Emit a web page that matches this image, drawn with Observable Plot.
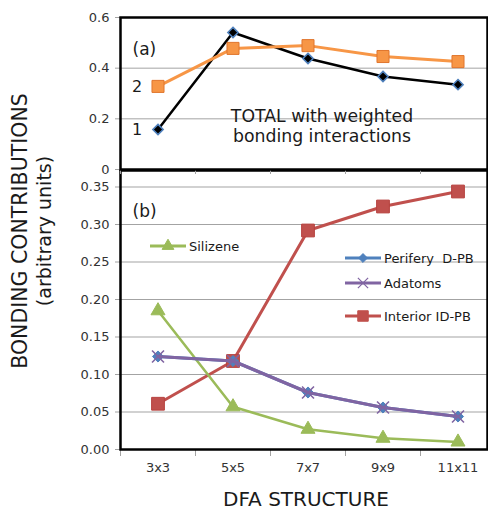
<!DOCTYPE html>
<html><head><meta charset="utf-8">
<script src="https://cdn.jsdelivr.net/npm/d3@7"></script>
<script src="https://cdn.jsdelivr.net/npm/@observablehq/plot@0.6"></script>
<style>
body{margin:0;background:#fff;}
#wrap{position:relative;width:488px;height:510px;overflow:hidden;font-family:"DejaVu Sans",Verdana,sans-serif;color:#1a1a1a;}
#wrap svg{position:absolute;left:0;overflow:visible;}
.abs{position:absolute;white-space:nowrap;}
.leg{position:absolute;display:flex;align-items:center;font-size:13px;white-space:nowrap;}
.leg svg{position:static !important;margin-right:3px;}
</style></head><body><div id="wrap"></div>
<script>
// ---- data ----
const structures = ["3x3", "5x5", "7x7", "9x9", "11x11"];
const total1 = [0.158, 0.541, 0.438, 0.367, 0.335];
const total2 = [0.328, 0.478, 0.489, 0.446, 0.426];
const silizene = [0.185, 0.057, 0.027, 0.015, 0.010];
const perifery = [0.124, 0.118, 0.076, 0.056, 0.044];
const adatoms  = [0.124, 0.118, 0.076, 0.056, 0.044];
const interior = [0.061, 0.118, 0.292, 0.324, 0.344];
const topTicks = [0, 0.2, 0.4, 0.6];
const topTickLabels = ["0", "0.2", "0.4", "0.6"];
const botTicks = [0, 0.05, 0.10, 0.15, 0.20, 0.25, 0.30, 0.35];
const botTickLabels = ["0.00", "0.05", "0.10", "0.15", "0.20", "0.25", "0.30", "0.35"];

const C = {blue:"#4f81bd", orange:"#f79646", green:"#9bbb59", purple:"#8064a2", red:"#c0504d"};
const idx = structures.map((d, i) => i);
const bounds = structures.map((d, i) => i - 0.5);
const rows = structures.map((s, i) => ({i, s, t1: total1[i], t2: total2[i], sil: silizene[i], per: perifery[i], ada: adatoms[i], int: interior[i]}));
const xs = {type: "linear", domain: [-0.5, 4.5], range: [120, 495], label: null};
const font = {fontFamily: "DejaVu Sans, Verdana, sans-serif", fontSize: "13px", color: "#1a1a1a", background: "transparent"};
const wrap = document.getElementById("wrap");

// ---- panel (a) ----
const topPlot = Plot.plot({
  width: 488, height: 175, marginTop: 17, marginBottom: 6, marginLeft: 120, marginRight: 1,
  style: font,
  x: xs,
  y: {domain: [0, 0.6], label: null},
  marks: [
    Plot.gridY(topTicks, {stroke: "#a3a3a3", strokeOpacity: 1}),
    Plot.axisY(topTicks, {label: null, tickSize: 5, tickPadding: 6, stroke: "#a3a3a3", fill: "#333", fontSize: 13, tickFormat: (d) => topTickLabels[topTicks.indexOf(d)]}),
    Plot.axisX(bounds, {label: null, tickSize: 5, tickPadding: 0, stroke: "#a3a3a3", tickFormat: () => ""}),
    Plot.frame({stroke: "#000", strokeWidth: 2.5}),
    Plot.line(rows, {x: "i", y: "t1", stroke: "#000", strokeWidth: 2.5}),
    Plot.dot(rows, {x: "i", y: "t1", symbol: "diamond2", r: 4.6, fill: "#000", stroke: C.blue, strokeWidth: 1.6}),
    Plot.line(rows, {x: "i", y: "t2", stroke: C.orange, strokeWidth: 3}),
    Plot.dot(rows, {x: "i", y: "t2", symbol: "square", r: 6.8, fill: C.orange, stroke: "#e0762e", strokeWidth: 1}),
    Plot.text(rows.slice(0, 1), {x: "i", y: "t1", text: () => "1", dx: -21, fontSize: 16, fill: "#1a1a1a"}),
    Plot.text(rows.slice(0, 1), {x: "i", y: "t2", text: () => "2", dx: -21, fontSize: 16, fill: "#1a1a1a"}),
    Plot.text(["(a)"], {frameAnchor: "top-left", dx: 12, dy: 25, text: (d) => d, textAnchor: "start", fontSize: 17, fill: "#1a1a1a"}),
    Plot.text(["TOTAL with weighted\nbonding interactions"], {frameAnchor: "bottom", dx: 18, dy: -28, text: (d) => d, fontSize: 17.3, lineHeight: 1.1, fill: "#1a1a1a"})
  ]
});
topPlot.style.top = "0px";

// ---- panel (b) ----
const botPlot = Plot.plot({
  width: 488, height: 341, marginTop: 1, marginBottom: 61, marginLeft: 120, marginRight: 1,
  style: font,
  x: xs,
  y: {domain: [0, 0.372], label: null},
  marks: [
    Plot.gridY(botTicks, {stroke: "#a3a3a3", strokeOpacity: 1}),
    Plot.axisY(botTicks, {label: null, tickSize: 5, tickPadding: 6, stroke: "#a3a3a3", fill: "#333", fontSize: 13, tickFormat: (d) => botTickLabels[botTicks.indexOf(d)]}),
    Plot.axisX(bounds, {label: null, tickSize: 7, tickPadding: 0, stroke: "#a3a3a3", tickFormat: () => ""}),
    Plot.axisX(idx, {label: null, tickSize: 0, tickPadding: 13, fill: "#333", fontSize: 13, tickFormat: (i) => structures[i]}),
    Plot.frame({stroke: "#000", strokeWidth: 2.5}),
    Plot.line(rows, {x: "i", y: "int", stroke: C.red, strokeWidth: 3}),
    Plot.dot(rows, {x: "i", y: "int", symbol: "square", r: 7.2, fill: C.red, stroke: "#b7423f", strokeWidth: 1}),
    Plot.line(rows, {x: "i", y: "sil", stroke: C.green, strokeWidth: 2.5}),
    Plot.dot(rows, {x: "i", y: "sil", symbol: "triangle", r: 5.2, fill: C.green, stroke: C.green, strokeWidth: 1}),
    Plot.line(rows, {x: "i", y: "per", stroke: C.blue, strokeWidth: 3}),
    Plot.dot(rows, {x: "i", y: "per", symbol: "diamond2", r: 5, fill: C.blue, stroke: C.blue, strokeWidth: 1}),
    Plot.line(rows, {x: "i", y: "ada", stroke: C.purple, strokeWidth: 3}),
    Plot.dot(rows, {x: "i", y: "ada", symbol: "times", r: 5.5, stroke: C.purple, strokeWidth: 1.6}),
    Plot.text(["(b)"], {frameAnchor: "top-left", dx: 12, dy: 34, text: (d) => d, textAnchor: "start", fontSize: 17, fill: "#1a1a1a"})
  ]
});
botPlot.style.top = "169px";
wrap.appendChild(botPlot);
wrap.appendChild(topPlot);

// ---- legend ----
function swatch(color, symbol, size, fill, stroke, sw) {
  const svg = d3.create("svg").attr("width", 36).attr("height", 16);
  svg.append("line").attr("x1", 0).attr("x2", 36).attr("y1", 8).attr("y2", 8).attr("stroke", color).attr("stroke-width", 3);
  svg.append("path").attr("transform", "translate(18,8)").attr("d", d3.symbol(symbol, size)())
    .attr("fill", fill).attr("stroke", stroke).attr("stroke-width", sw);
  return svg.node();
}
const legends = [
  {label: "Silizene", color: C.green, sym: d3.symbolTriangle, size: 60, fill: C.green, stroke: C.green, sw: 1, left: 150, top: 238},
  {label: "Perifery  D-PB", color: C.blue, sym: d3.symbolDiamond2, size: 50, fill: C.blue, stroke: C.blue, sw: 1, left: 345, top: 250},
  {label: "Adatoms", color: C.purple, sym: d3.symbolTimes, size: 70, fill: "none", stroke: C.purple, sw: 1.2, left: 345, top: 275},
  {label: "Interior ID-PB", color: C.red, sym: d3.symbolSquare, size: 110, fill: C.red, stroke: C.red, sw: 1, left: 345, top: 308}
];
for (const l of legends) {
  const div = document.createElement("div");
  div.className = "leg";
  div.style.left = l.left + "px";
  div.style.top = l.top + "px";
  div.appendChild(swatch(l.color, l.sym, l.size, l.fill, l.stroke, l.sw));
  const span = document.createElement("span");
  span.textContent = l.label;
  span.style.whiteSpace = "pre";
  div.appendChild(span);
  wrap.appendChild(div);
}

// ---- axis titles ----
const yt = document.createElement("div");
yt.className = "abs";
Object.assign(yt.style, {left: "-118px", top: "206px", width: "300px", height: "50px", textAlign: "center", transform: "rotate(-90deg)", transformOrigin: "150px 25px"});
yt.innerHTML = '<div style="font-size:20.5px;line-height:26px">BONDING CONTRIBUTIONS</div><div style="font-size:19px;line-height:22px">(arbitrary units)</div>';
wrap.appendChild(yt);
const xt = document.createElement("div");
xt.className = "abs";
Object.assign(xt.style, {left: "156px", top: "488px", width: "300px", textAlign: "center", fontSize: "20px", lineHeight: "22px"});
xt.textContent = "DFA STRUCTURE";
wrap.appendChild(xt);
</script></body></html>
